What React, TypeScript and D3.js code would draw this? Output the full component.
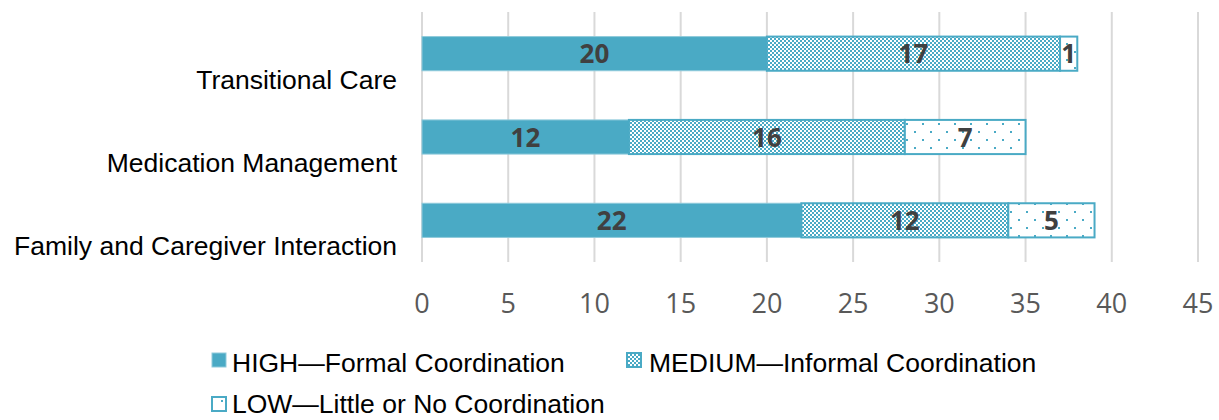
import * as d3 from "d3";
import { useEffect, useRef } from "react";

// chart data
const categories = [
  "Transitional Care",
  "Medication Management",
  "Family and Caregiver Interaction",
];
const highValues = [20, 12, 22];
const mediumValues = [17, 16, 12];
const lowValues = [1, 7, 5];
const seriesNames = [
  "HIGH\u2014Formal Coordination",
  "MEDIUM\u2014Informal Coordination",
  "LOW\u2014Little or No Coordination",
];
const xTicks = [0, 5, 10, 15, 20, 25, 30, 35, 40, 45];

const TEAL = "#4AAAC5";

function App() {
  const svgRef = useRef(null);
  const width = 1219;
  const height = 420;

  useEffect(() => {
    const svg = d3.select(svgRef.current);
    svg.selectAll("*").remove();

    const defs = svg.append("defs");
    // fine checker for MEDIUM
    const checker = defs
      .append("pattern")
      .attr("id", "checker")
      .attr("patternUnits", "userSpaceOnUse")
      .attr("width", 4)
      .attr("height", 4);
    checker.append("rect").attr("width", 4).attr("height", 4).attr("fill", "#fff");
    checker.append("rect").attr("width", 2).attr("height", 2).attr("fill", TEAL);
    checker.append("rect").attr("x", 2).attr("y", 2).attr("width", 2).attr("height", 2).attr("fill", TEAL);

    // sparse dots for LOW
    const dots = defs
      .append("pattern")
      .attr("id", "dots")
      .attr("patternUnits", "userSpaceOnUse")
      .attr("x", 2)
      .attr("y", 3)
      .attr("width", 16)
      .attr("height", 16);
    dots.append("rect").attr("width", 16).attr("height", 16).attr("fill", "#fff");
    dots.append("rect").attr("width", 2).attr("height", 2).attr("fill", TEAL);
    dots.append("rect").attr("x", 8).attr("y", 8).attr("width", 2).attr("height", 2).attr("fill", TEAL);

    const x = d3.scaleLinear().domain([0, 45]).range([422, 1198]);
    const y = d3
      .scaleBand()
      .domain(categories)
      .range([12, 262])
      .paddingInner(0.59)
      .paddingOuter(0.295);

    // gridlines
    svg
      .append("g")
      .selectAll("line")
      .data(xTicks)
      .join("line")
      .attr("x1", (d) => x(d))
      .attr("x2", (d) => x(d))
      .attr("y1", 12)
      .attr("y2", 262)
      .attr("stroke", "#d9d9d9")
      .attr("stroke-width", 2);

    // tick labels
    svg
      .append("g")
      .selectAll("text")
      .data(xTicks)
      .join("text")
      .attr("x", (d) => x(d))
      .attr("y", 313)
      .attr("text-anchor", "middle")
      .attr("fill", "#595959")
      .style("font", "27px 'Open Sans', sans-serif")
      .text((d) => d);

    // category labels (sit a bit below their bars, as in the original)
    svg
      .append("g")
      .selectAll("text")
      .data(categories)
      .join("text")
      .attr("x", 397)
      .attr("y", (d) => y(d)! + y.bandwidth() / 2 + 35)
      .attr("text-anchor", "end")
      .attr("fill", "#000")
      .style("font", "26.5px 'Liberation Sans', Arial, sans-serif")
      .text((d) => d);

    const stacked = d3
      .stack<number>()
      .keys(["high", "medium", "low"])
      .value((i, key) =>
        key === "high" ? highValues[i] : key === "medium" ? mediumValues[i] : lowValues[i]
      )(d3.range(categories.length));

    const fills = [TEAL, "url(#checker)", "url(#dots)"];
    const strokes = ["#8fcadb", TEAL, TEAL];

    stacked.forEach((layer, li) => {
      const g = svg.append("g");
      g.selectAll("rect")
        .data(layer)
        .join("rect")
        .attr("x", (d) => x(d[0]))
        .attr("y", (d) => y(categories[d.data])!)
        .attr("width", (d) => x(d[1]) - x(d[0]))
        .attr("height", y.bandwidth())
        .attr("fill", fills[li])
        .attr("stroke", strokes[li])
        .attr("stroke-width", li === 0 ? 1 : 2);
    });

    stacked.forEach((layer) => {
      svg
        .append("g")
        .selectAll("text")
        .data(layer)
        .join("text")
        .attr("x", (d) => (x(d[0]) + x(d[1])) / 2)
        .attr("y", (d) => y(categories[d.data])! + y.bandwidth() / 2 + 9.5)
        .attr("text-anchor", "middle")
        .attr("fill", "#404040")
        .style("font", "bold 26px 'Open Sans', sans-serif")
        .text((d) => d[1] - d[0]);
    });

    // legend
    const legendPos = [
      { sx: 212, sy: 353, tx: 232, ty: 372 },
      { sx: 627, sy: 353, tx: 649, ty: 372 },
      { sx: 212, sy: 397, tx: 232, ty: 413 },
    ];
    const legend = svg.append("g");
    seriesNames.forEach((name, i) => {
      const p = legendPos[i];
      legend
        .append("rect")
        .attr("x", p.sx)
        .attr("y", p.sy)
        .attr("width", 14)
        .attr("height", 14)
        .attr("fill", i === 2 ? "#fff" : fills[i])
        .attr("stroke", i === 0 ? "#8fcadb" : TEAL)
        .attr("stroke-width", i === 0 ? 1 : 2);
      if (i === 2) {
        legend
          .append("rect")
          .attr("x", p.sx + 9)
          .attr("y", p.sy + 3)
          .attr("width", 2)
          .attr("height", 2)
          .attr("fill", TEAL);
      }
      legend
        .append("text")
        .attr("x", p.tx)
        .attr("y", p.ty)
        .attr("fill", "#000")
        .style("font", "26.5px 'Liberation Sans', Arial, sans-serif")
        .text(name);
    });
  });

  return (
    <svg
      ref={svgRef}
      width={width}
      height={height}
      style={{ position: "absolute", left: 0, top: 0, background: "#fff" }}
    />
  );
}

export default App;
